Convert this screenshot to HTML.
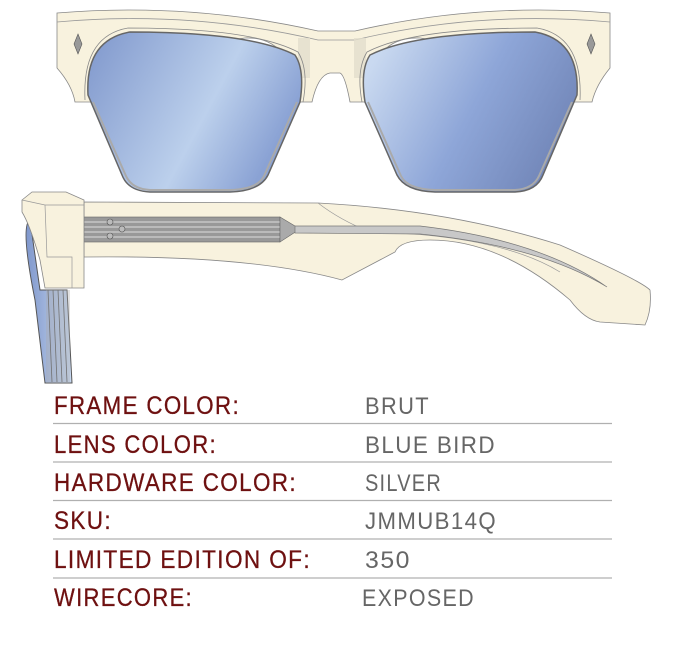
<!DOCTYPE html>
<html><head><meta charset="utf-8"><style>
html,body{margin:0;padding:0;background:#fff;width:684px;height:654px;overflow:hidden}
svg{position:absolute;left:0;top:0}
.l{font-family:"Liberation Sans",sans-serif;font-size:25px;fill:#6e1010;letter-spacing:1.5px;stroke:#6e1010;stroke-width:0.3}
.v{font-family:"Liberation Sans",sans-serif;font-size:24px;fill:#666;letter-spacing:1.5px}
</style></head><body>
<svg width="684" height="654" viewBox="0 0 684 654">
<defs>
<linearGradient id="lg1" x1="0" y1="0" x2="1" y2="0.4">
<stop offset="0" stop-color="#7f97cc"/><stop offset="0.65" stop-color="#bcd0ec"/><stop offset="1" stop-color="#8aa2d4"/></linearGradient>
<linearGradient id="lg2" x1="0" y1="0.3" x2="1" y2="0.7">
<stop offset="0" stop-color="#c9d9f0"/><stop offset="0.5" stop-color="#8ea6d8"/><stop offset="1" stop-color="#6f83b5"/></linearGradient>
<linearGradient id="side" x1="0" y1="0" x2="1" y2="0"><stop offset="0" stop-color="#7f97cc"/><stop offset="1" stop-color="#c9d9f0"/></linearGradient>
</defs>
<!-- top frame -->
<path d="M57,13 Q190,2 318,31 L355,31 Q480,2 610,13 L610,68 Q596,85 592,102 L575,102 L563,102 Q540,55 420,38 Q370,36 366,102 L350,102 Q345,75 340,73 L330,73 Q318,75 312,102 L300,102 Q292,36 245,38 Q120,55 92,102 L75,102 Q72,85 57,68 Z" fill="#f8f2de" stroke="#888" stroke-width="0.8"/>
<path d="M57,22 Q190,10 318,40 L355,40 Q480,10 610,22" fill="none" stroke="#999" stroke-width="0.8"/>
<rect x="298" y="38" width="12" height="40" fill="#e2ddcc" opacity="0.8"/>
<rect x="354" y="38" width="12" height="40" fill="#e2ddcc" opacity="0.8"/>
<!-- lens rims -->
<path d="M85,100 Q82,36 128,28 Q252,28 298,52 Q309,70 303,102" fill="none" stroke="#888" stroke-width="0.8"/>
<path d="M580,100 Q583,36 537,28 Q413,28 367,52 Q356,70 362,102" fill="none" stroke="#888" stroke-width="0.8"/>
<!-- lenses -->
<path d="M88,95 Q85,40 130,32 Q250,32 295,55 Q305,70 300,102 L268,175 Q260,191 230,192 L150,192 Q128,191 122,175 Z" fill="url(#lg1)" stroke="#666" stroke-width="1.5"/>
<path d="M577,95 Q580,40 535,32 Q415,32 370,55 Q360,70 365,102 L397,175 Q405,191 435,192 L515,192 Q537,191 543,175 Z" fill="url(#lg2)" stroke="#666" stroke-width="1.5"/>
<path d="M93,102 L126,176 Q132,189 150,190 L230,190 Q258,189 264,176 L297,102" fill="none" stroke="#aaa" stroke-width="2"/>
<path d="M572,102 L539,176 Q533,189 515,190 L435,190 Q407,189 401,176 L368,102" fill="none" stroke="#aaa" stroke-width="2"/>
<path d="M78,34 L82,44 L78,54 L74,44 Z" fill="#999" stroke="#555" stroke-width="0.6"/>
<path d="M591,34 L595,44 L591,54 L587,44 Z" fill="#999" stroke="#555" stroke-width="0.6"/>
<!-- side view lens -->
<path d="M30,220 Q20,225 35,300 L45,383 L72,383 L67,290 L40,290 Z" fill="url(#side)" stroke="#555" stroke-width="1"/>
<g stroke="#555" stroke-width="0.8"><line x1="48" y1="290" x2="52" y2="382"/><line x1="53" y1="290" x2="57" y2="382"/><line x1="58" y1="290" x2="62" y2="382"/><line x1="63" y1="290" x2="67" y2="382"/></g>
<rect x="46" y="290" width="24" height="93" fill="#aaa" opacity="0.35"/>
<!-- temple -->
<path d="M84,202 L318,203 Q450,210 560,245 Q640,280 650,290 Q652,310 645,325 L600,322 Q585,320 570,300 Q500,240 430,240 Q400,240 395,252 L342,280 Q250,255 84,257 Z" fill="#f8f2de" stroke="#888" stroke-width="0.8"/>
<path d="M318,203 Q340,220 370,232 Q500,235 560,272" fill="none" stroke="#999" stroke-width="0.7"/>
<rect x="84" y="217" width="196" height="25" fill="#999" stroke="#666" stroke-width="0.6"/>
<g stroke="#ddd" stroke-width="1"><line x1="84" y1="222" x2="280" y2="222"/><line x1="84" y1="227" x2="285" y2="227"/><line x1="84" y1="232" x2="285" y2="232"/><line x1="84" y1="237" x2="280" y2="237"/></g>
<path d="M280,217 L300,229 L280,242 Z" fill="#aaa" stroke="#666" stroke-width="0.6"/>
<path d="M295,226 L420,226 Q540,240 607,287 Q540,246 420,234 L295,233 Z" fill="#c8c8c8" stroke="#777" stroke-width="0.7"/>
<circle cx="110" cy="222" r="3" fill="#bbb" stroke="#555" stroke-width="0.6"/>
<circle cx="122" cy="229" r="3" fill="#bbb" stroke="#555" stroke-width="0.6"/>
<circle cx="110" cy="236" r="3" fill="#bbb" stroke="#555" stroke-width="0.6"/>
<!-- front block -->
<path d="M22,200 L32,192 L66,192 L84,200 L84,288 L45,288 L40,260 Q30,225 22,212 Z" fill="#f8f2de" stroke="#888" stroke-width="0.8"/>
<path d="M22,200 L45,205 L84,205 M45,205 L47,257 L72,257 L72,288" fill="none" stroke="#999" stroke-width="0.7"/>
<!-- table -->
<g stroke="#b0b0b0" stroke-width="1.3">
<line x1="53" y1="423.5" x2="612" y2="423.5"/><line x1="53" y1="462" x2="612" y2="462"/><line x1="53" y1="500.5" x2="612" y2="500.5"/><line x1="53" y1="539" x2="612" y2="539"/><line x1="53" y1="578" x2="612" y2="578"/></g>
<g class="l">
<text x="54" y="414" textLength="186" lengthAdjust="spacingAndGlyphs">FRAME COLOR:</text>
<text x="54" y="453" textLength="163" lengthAdjust="spacingAndGlyphs">LENS COLOR:</text>
<text x="54" y="491" textLength="243" lengthAdjust="spacingAndGlyphs">HARDWARE COLOR:</text>
<text x="54" y="529" textLength="58" lengthAdjust="spacingAndGlyphs">SKU:</text>
<text x="54" y="568" textLength="257" lengthAdjust="spacingAndGlyphs">LIMITED EDITION OF:</text>
<text x="54" y="606" textLength="139" lengthAdjust="spacingAndGlyphs">WIRECORE:</text>
</g>
<g class="v">
<text x="365" y="414" textLength="65" lengthAdjust="spacingAndGlyphs">BRUT</text>
<text x="365" y="453" textLength="131" lengthAdjust="spacingAndGlyphs">BLUE BIRD</text>
<text x="365" y="491" textLength="77" lengthAdjust="spacingAndGlyphs">SILVER</text>
<text x="365" y="529" textLength="132" lengthAdjust="spacingAndGlyphs">JMMUB14Q</text>
<text x="365" y="568" textLength="46" lengthAdjust="spacingAndGlyphs">350</text>
<text x="362" y="606" textLength="113" lengthAdjust="spacingAndGlyphs">EXPOSED</text>
</g>
</svg>
</body></html>
